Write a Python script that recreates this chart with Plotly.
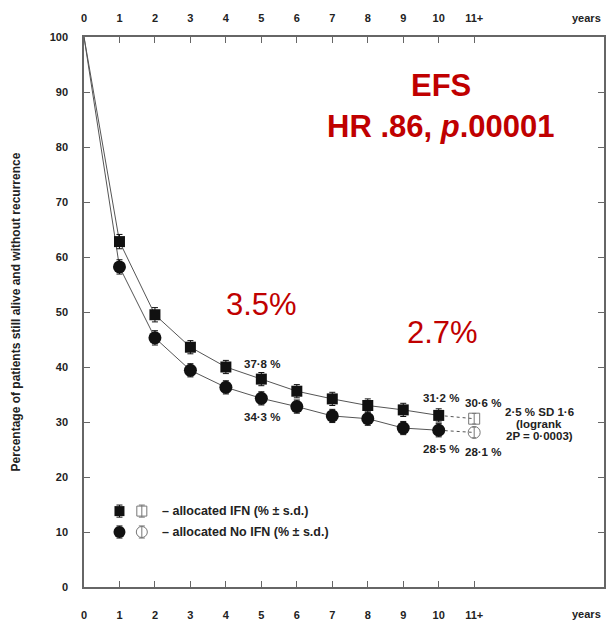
import plotly.graph_objects as go

# Event-free survival by year of follow-up (% of patients)
years = [0, 1, 2, 3, 4, 5, 6, 7, 8, 9, 10]
ifn = [100, 62.8, 49.5, 43.6, 40.0, 37.8, 35.6, 34.2, 33.0, 32.2, 31.2]
no_ifn = [100, 58.2, 45.3, 39.4, 36.3, 34.3, 32.8, 31.1, 30.6, 28.9, 28.5]
sd = [0, 1.3, 1.3, 1.2, 1.2, 1.2, 1.2, 1.2, 1.2, 1.2, 1.2]

# Later follow-up (11+ years)
late_year = 11
ifn_late = 30.6
no_ifn_late = 28.1
sd_late = 1.6

tick_vals = [0, 1, 2, 3, 4, 5, 6, 7, 8, 9, 10, 11]
tick_text = ["0", "1", "2", "3", "4", "5", "6", "7", "8", "9", "10", "11+"]
y_ticks = [0, 10, 20, 30, 40, 50, 60, 70, 80, 90, 100]

LINE = "#555555"
DARK = "#111111"
OPEN = "#777777"
RED = "#c00000"
FONT = "Liberation Sans"

W, H = 608, 623
L, R, T, B = 84, 2, 37, 35


def pct(v):
    return f"{v:.1f}".replace(".", "·") + " %"


def px(x):
    return (x - L) / (W - L - R)


def py(y):
    return 1 - (y - T) / (H - T - B)


fig = go.Figure()

# connecting lines
for series in (ifn, no_ifn):
    fig.add_trace(go.Scatter(x=years, y=series, mode="lines",
                             line=dict(color=LINE, width=1), hoverinfo="skip"))
for series, late in ((ifn, ifn_late), (no_ifn, no_ifn_late)):
    fig.add_trace(go.Scatter(x=[years[-1], late_year], y=[series[-1], late],
                             mode="lines", line=dict(color=LINE, width=1, dash="dot")))

# filled markers with s.d. bars
fig.add_trace(go.Scatter(
    x=years[1:], y=ifn[1:], mode="markers",
    marker=dict(symbol="square", size=11, color=DARK),
    error_y=dict(type="data", array=sd[1:], color=DARK, thickness=1, width=3)))
fig.add_trace(go.Scatter(
    x=years[1:], y=no_ifn[1:], mode="markers",
    marker=dict(symbol="circle", size=13, color=DARK),
    error_y=dict(type="data", array=sd[1:], color=DARK, thickness=1, width=3)))

# open markers for 11+ years
fig.add_trace(go.Scatter(
    x=[late_year], y=[ifn_late], mode="markers",
    marker=dict(symbol="square-open", size=11, color=OPEN, line=dict(width=1)),
    error_y=dict(type="data", array=[sd_late * 0.6], color=OPEN, thickness=1, width=2)))
fig.add_trace(go.Scatter(
    x=[late_year], y=[no_ifn_late], mode="markers",
    marker=dict(symbol="circle-open", size=12, color=OPEN, line=dict(width=1)),
    error_y=dict(type="data", array=[sd_late * 0.6], color=OPEN, thickness=1, width=2)))

# key glyphs
KEY_X = [1.0, 1.63]
KEY_Y = [13.8, 10.0]
fig.add_trace(go.Scatter(x=[KEY_X[0]], y=[KEY_Y[0]], mode="markers",
                         marker=dict(symbol="square", size=10, color=DARK),
                         error_y=dict(type="data", array=[1.1], color=DARK, thickness=1, width=3)))
fig.add_trace(go.Scatter(x=[KEY_X[1]], y=[KEY_Y[0]], mode="markers",
                         marker=dict(symbol="square-open", size=10, color=OPEN, line=dict(width=1)),
                         error_y=dict(type="data", array=[1.1], color=OPEN, thickness=1, width=3)))
fig.add_trace(go.Scatter(x=[KEY_X[0]], y=[KEY_Y[1]], mode="markers",
                         marker=dict(symbol="circle", size=12, color=DARK),
                         error_y=dict(type="data", array=[1.1], color=DARK, thickness=1, width=3)))
fig.add_trace(go.Scatter(x=[KEY_X[1]], y=[KEY_Y[1]], mode="markers",
                         marker=dict(symbol="circle-open", size=11, color=OPEN, line=dict(width=1)),
                         error_y=dict(type="data", array=[1.1], color=OPEN, thickness=1, width=3)))

small = dict(family=FONT, size=11.5, color="#222222", weight="bold")
keyfont = dict(family=FONT, size=12.5, color="#222222", weight="bold")
ann = []
for txt, y in (("– allocated IFN (% ± s.d.)", KEY_Y[0]), ("– allocated No IFN (% ± s.d.)", KEY_Y[1])):
    ann.append(dict(x=2.13, y=y, xref="x", yref="y", text=txt, showarrow=False,
                    xanchor="left", yanchor="middle", font=keyfont))

# value labels next to their points
vals = [
    dict(x=5, y=ifn[5], text=pct(ifn[5]), xshift=1, yshift=15),
    dict(x=5, y=no_ifn[5], text=pct(no_ifn[5]), xshift=1, yshift=-19),
    dict(x=10, y=ifn[10], text=pct(ifn[10]), xshift=2, yshift=17),
    dict(x=late_year, y=ifn_late, text=pct(ifn_late), xshift=9, yshift=16),
    dict(x=10, y=no_ifn[10], text=pct(no_ifn[10]), xshift=2, yshift=-19),
    dict(x=late_year, y=no_ifn_late, text=pct(no_ifn_late), xshift=9, yshift=-20),
]
for a in vals:
    a.update(xref="x", yref="y", showarrow=False, font=small,
             xanchor="center", yanchor="middle")
ann += vals

# logrank result
for txt, yy in (("2·5 % SD 1·6", 413), ("(logrank", 425), ("2P = 0·0003)", 437)):
    ann.append(dict(x=px(541), y=py(yy), xref="paper", yref="paper", text=txt,
                    showarrow=False, xanchor="center", yanchor="middle", font=small))

# headline statistics
big = dict(family=FONT, size=31, color=RED)
for txt, x, y in (("<b>EFS</b>", 442, 86),
                  ("<b>HR .86, <i>p</i>.00001</b>", 442, 127),
                  ("3.5%", 262, 305),
                  ("2.7%", 444, 333)):
    ann.append(dict(x=px(x), y=py(y), xref="paper", yref="paper", text=txt,
                    showarrow=False, xanchor="center", yanchor="middle", font=big))

# "years" unit labels
tickfont = dict(family=FONT, size=11, color="#222222", weight="bold")
for yy in (18, 615):
    ann.append(dict(x=px(588), y=py(yy), xref="paper", yref="paper", text="years",
                    showarrow=False, xanchor="center", yanchor="middle", font=tickfont))

axis_common = dict(showgrid=False, zeroline=False, ticks="inside", ticklen=6,
                   tickcolor="#666666", linecolor="#666666", linewidth=1.5,
                   showline=True, tickfont=tickfont)

fig.update_layout(
    width=W, height=H, margin=dict(l=L, r=R, t=T, b=B),
    paper_bgcolor="white", plot_bgcolor="white", showlegend=False,
    annotations=ann,
    xaxis=dict(range=[0, 14.66], tickvals=tick_vals, ticktext=tick_text,
               mirror="ticks", ticklabelstandoff=17, **axis_common),
    xaxis2=dict(range=[0, 14.66], tickvals=tick_vals, ticktext=tick_text,
                overlaying="x", side="top", ticklabelstandoff=12,
                showgrid=False, zeroline=False, ticks="", showline=False,
                tickfont=tickfont),
    yaxis=dict(range=[0, 100], tickvals=y_ticks, mirror="ticks", ticklabelstandoff=12,
               title=dict(text="Percentage of patients still alive and without recurrence",
                          font=dict(family=FONT, size=12, color="#222222", weight="bold"),
                          standoff=26),
               **axis_common),
)
# keep the top axis labels drawn
fig.add_trace(go.Scatter(x=[0], y=[None], xaxis="x2", showlegend=False))

fig.write_html("out.html")
